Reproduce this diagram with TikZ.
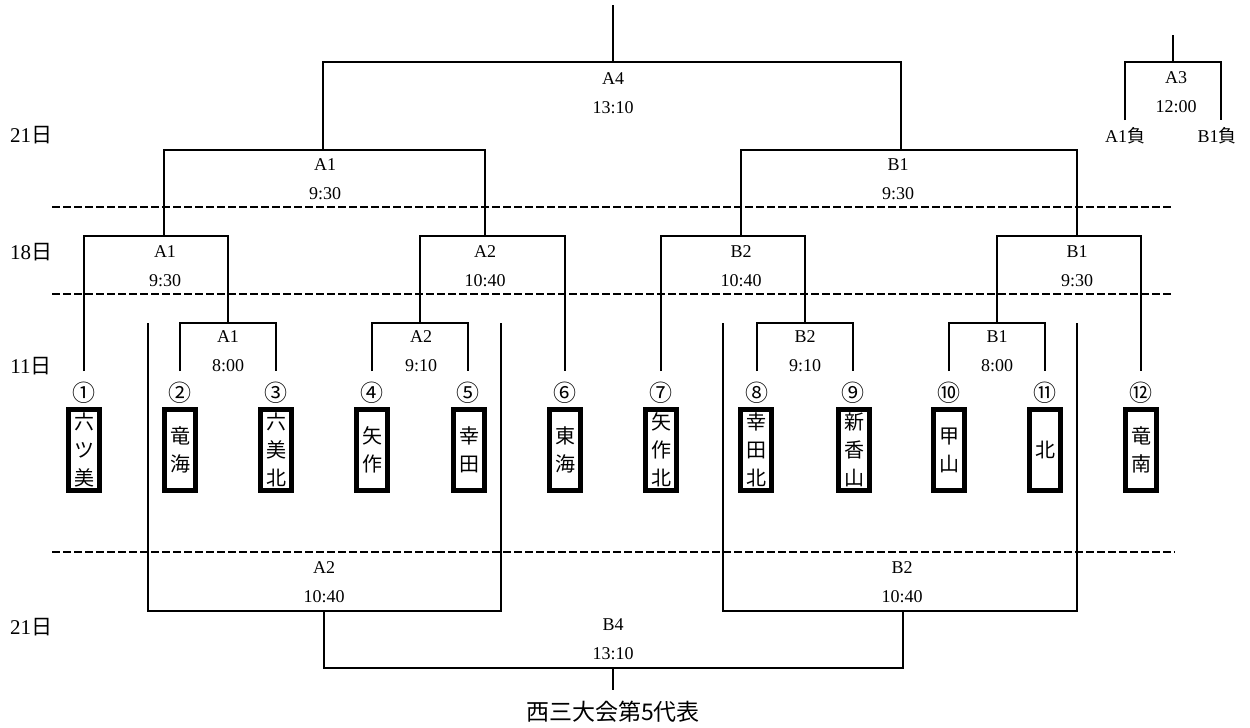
\documentclass[tikz,border=0pt]{standalone}
\usepackage{fontspec}
\setmainfont{Liberation Serif}
\newfontfamily\jp{Noto Sans CJK JP}
\begin{document}
\begin{tikzpicture}[x=1pt,y=-1pt,
    bracket/.style={line width=2pt},
    dayline/.style={line width=1.6pt,dash pattern=on 8pt off 3pt},
    game/.style={align=center,inner sep=0pt,font=\fontsize{18}{29}\selectfont},
    day/.style={inner sep=0pt,font=\fontsize{21}{21}\selectfont},
    num/.style={inner sep=0pt,font=\jp\fontsize{23}{23}\selectfont},
    team/.style={draw,line width=4.5pt,minimum width=31pt,minimum height=81pt,
        inner sep=0pt,align=center,font=\jp\fontsize{20}{28}\selectfont}]
    \useasboundingbox (0,0) rectangle (1250,728);
    %% Days
    \node[day] (d21a) at (31,135) {21{\jp 日}};
    \node[day] (d18) at (31,252) {18{\jp 日}};
    \node[day] (d11) at (31,366) {11{\jp 日}};
    \node[day] (d21b) at (31,627) {21{\jp 日}};
    \draw[dayline] (52,207) -- (1173,207);
    \draw[dayline] (52,294) -- (1173,294);
    \draw[dayline] (52,552) -- (1175,552);
    %% Teams
    \node[team] (t1) at (84,450) {六\\ツ\\美};
    \node[team] (t2) at (180,450) {竜\\海};
    \node[team] (t3) at (276,450) {六\\美\\北};
    \node[team] (t4) at (372,450) {矢\\作};
    \node[team] (t5) at (469,450) {幸\\田};
    \node[team] (t6) at (565,450) {東\\海};
    \node[team] (t7) at (661,450) {矢\\作\\北};
    \node[team] (t8) at (756,450) {幸\\田\\北};
    \node[team] (t9) at (854,450) {新\\香\\山};
    \node[team] (t10) at (949,450) {甲\\山};
    \node[team] (t11) at (1045,450) {北};
    \node[team] (t12) at (1141,450) {竜\\南};
    %% Numbers
    \node[num] (n1) at (84,393) {①};
    \node[num] (n2) at (180,393) {②};
    \node[num] (n3) at (276,393) {③};
    \node[num] (n4) at (372,393) {④};
    \node[num] (n5) at (468,393) {⑤};
    \node[num] (n6) at (565,393) {⑥};
    \node[num] (n7) at (661,393) {⑦};
    \node[num] (n8) at (757,393) {⑧};
    \node[num] (n9) at (853,393) {⑨};
    \node[num] (n10) at (949,393) {⑩};
    \node[num] (n11) at (1045,393) {⑪};
    \node[num] (n12) at (1141,393) {⑫};
    %% Junctions
    \coordinate (a1d) at (228,323);
    \coordinate (a2d) at (420,323);
    \coordinate (b2d) at (805,323);
    \coordinate (b1d) at (997,323);
    \coordinate (a1e) at (164,236);
    \coordinate (a2e) at (485,236);
    \coordinate (b2e) at (741,236);
    \coordinate (b1e) at (1077,236);
    \coordinate (a1t) at (323,150);
    \coordinate (b1t) at (901,150);
    \coordinate (a4) at (613,62);
    \coordinate (a4w) at (613,5);
    \coordinate (pa) at (148,323);
    \coordinate (pb) at (501,323);
    \coordinate (pc) at (723,323);
    \coordinate (pd) at (1077,323);
    \coordinate (a2b) at (324,611);
    \coordinate (b2b) at (903,611);
    \coordinate (b4) at (613,668);
    \coordinate (b4w) at (613,690);
    \coordinate (a3) at (1173,62);
    \coordinate (a3w) at (1173,35);
    \coordinate (a3l) at (1125,120);
    \coordinate (a3r) at (1221,120);
    %% 11th
    \draw[bracket] ([yshift=11pt]n2.north) |- (a1d) -| ([yshift=11pt]n3.north);
    \draw[bracket] ([yshift=11pt]n4.north) |- (a2d) -| ([yshift=11pt]n5.north);
    \draw[bracket] ([yshift=11pt]n8.north) |- (b2d) -| ([yshift=11pt]n9.north);
    \draw[bracket] ([yshift=11pt]n10.north) |- (b1d) -| ([yshift=11pt]n11.north);
    %% 18th
    \draw[bracket] ([yshift=11pt]n1.north) |- (a1e) -| (a1d);
    \draw[bracket] (a2d) |- (a2e) -| ([yshift=11pt]n6.north);
    \draw[bracket] ([yshift=11pt]n7.north) |- (b2e) -| (b2d);
    \draw[bracket] (b1d) |- (b1e) -| ([yshift=11pt]n12.north);
    %% 21st
    \draw[bracket] (a1e) |- (a1t) -| (a2e);
    \draw[bracket] (b2e) |- (b1t) -| (b1e);
    \draw[bracket] (a1t) |- (a4) -| (b1t);
    \draw[bracket] (a4) -- (a4w);
    \draw[bracket] (a3l) |- (a3) -| (a3r);
    \draw[bracket] (a3) -- (a3w);
    \draw[bracket] (pa) |- (a2b) -| (pb);
    \draw[bracket] (pc) |- (b2b) -| (pd);
    \draw[bracket] (a2b) |- (b4) -| (b2b);
    \draw[bracket] (b4) -- (b4w);
    %% Labels
    \node[game] (g11a) at (228,351) {A1\\8:00};
    \node[game] (g11b) at (421,351) {A2\\9:10};
    \node[game] (g11c) at (805,351) {B2\\9:10};
    \node[game] (g11d) at (997,351) {B1\\8:00};
    \node[game] (g18a) at (165,266) {A1\\9:30};
    \node[game] (g18b) at (485,266) {A2\\10:40};
    \node[game] (g18c) at (741,266) {B2\\10:40};
    \node[game] (g18d) at (1077,266) {B1\\9:30};
    \node[game] (g21a) at (325,179) {A1\\9:30};
    \node[game] (g21b) at (898,179) {B1\\9:30};
    \node[game] (g21c) at (613,93) {A4\\13:10};
    \node[game] (g21d) at (1176,92) {A3\\12:00};
    \node[game] (g21e) at (324,582) {A2\\10:40};
    \node[game] (g21f) at (902,582) {B2\\10:40};
    \node[game] (g21g) at (613,639) {B4\\13:10};
    \node[game] (l1) at (1125,136) {A1{\jp 負}};
    \node[game] (l2) at (1217,136) {B1{\jp 負}};
    \node[inner sep=0pt,font=\jp\fontsize{23}{23}\selectfont] (fin) at (613,712) {西三大会第5代表};
\end{tikzpicture}
\end{document}
